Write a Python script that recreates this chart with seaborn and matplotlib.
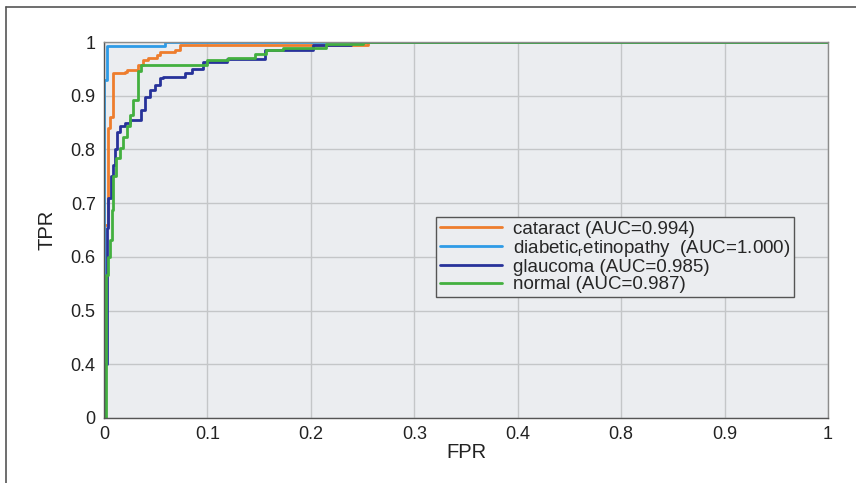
import numpy as np
import pandas as pd
import matplotlib
matplotlib.use("Agg")
import matplotlib.pyplot as plt
from matplotlib.lines import Line2D
import seaborn as sns

# ---- data (step ROC curves) ----
cataract_fpr = [0, 0, 0.004, 0.004, 0.006, 0.006, 0.009, 0.009, 0.020, 0.020, 0.022, 0.022,
                0.033, 0.033, 0.038, 0.038, 0.043, 0.043, 0.051, 0.051, 0.054, 0.054,
                0.069, 0.069, 0.073, 0.073, 0.255, 0.255, 1.0]
cataract_tpr = [0, 0.66, 0.66, 0.84, 0.84, 0.86, 0.86, 0.942, 0.942, 0.945, 0.945, 0.948,
                0.948, 0.957, 0.957, 0.967, 0.967, 0.971, 0.971, 0.975, 0.975, 0.982,
                0.982, 0.985, 0.985, 0.995, 0.995, 1.0, 1.0]

diabetic_fpr = [0, 0, 0.003, 0.003, 0.059, 0.059, 1.0]
diabetic_tpr = [0, 0.93, 0.93, 0.992, 0.992, 1.0, 1.0]

glaucoma_fpr = [0, 0, 0.0026, 0.0026, 0.004, 0.004, 0.0065, 0.0065, 0.009, 0.009, 0.0106, 0.0106,
                0.0129, 0.0129, 0.0155, 0.0155, 0.020, 0.020, 0.025, 0.025, 0.036, 0.036,
                0.040, 0.040, 0.044, 0.044, 0.049, 0.049, 0.054, 0.054, 0.057, 0.057,
                0.078, 0.078, 0.085, 0.085, 0.096, 0.096, 0.1185, 0.1185, 0.156, 0.156,
                0.202, 0.202, 0.239, 0.239, 1.0]
glaucoma_tpr = [0, 0.40, 0.40, 0.654, 0.654, 0.71, 0.71, 0.75, 0.75, 0.771, 0.771, 0.80,
                0.80, 0.833, 0.833, 0.843, 0.843, 0.849, 0.849, 0.855, 0.855, 0.874,
                0.874, 0.898, 0.898, 0.911, 0.911, 0.92, 0.92, 0.9325, 0.9325, 0.9355,
                0.9355, 0.942, 0.942, 0.950, 0.950, 0.962, 0.962, 0.969, 0.969, 0.986,
                0.986, 0.995, 0.995, 1.0, 1.0]

normal_fpr = [0, 0.002, 0.002, 0.004, 0.004, 0.006, 0.006, 0.0074, 0.0074, 0.009, 0.009,
              0.012, 0.012, 0.0155, 0.0155, 0.0187, 0.0187, 0.022, 0.022, 0.025, 0.025,
              0.028, 0.028, 0.033, 0.033, 0.036, 0.036, 0.100, 0.100, 0.120, 0.120,
              0.146, 0.146, 0.157, 0.157, 0.173, 0.173, 0.215, 0.215, 0.25, 0.25, 1.0]
normal_tpr = [0, 0, 0.567, 0.567, 0.60, 0.60, 0.632, 0.632, 0.688, 0.688, 0.75, 0.75,
              0.784, 0.784, 0.802, 0.802, 0.824, 0.824, 0.843, 0.843, 0.864, 0.864,
              0.892, 0.892, 0.946, 0.946, 0.957, 0.957, 0.966, 0.966, 0.971, 0.971,
              0.977, 0.977, 0.985, 0.985, 0.989, 0.989, 0.997, 0.997, 1.0, 1.0]

labels = ["cataract (AUC=0.994)",
          "diabetic$_{\\mathregular{r}}$etinopathy  (AUC=1.000)",
          "glaucoma (AUC=0.985)",
          "normal (AUC=0.987)"]
colors = ["#EE7D2D", "#2E9BE6", "#27329A", "#43B03F"]

x_ticks = [0, 0.1, 0.2, 0.3, 0.4, 0.8, 0.9, 1.0]
x_ticklabels = ["0", "0.1", "0.2", "0.3", "0.4", "0.8", "0.9", "1"]
y_ticks = [0, 0.4, 0.5, 0.6, 0.7, 0.8, 0.9, 1.0]
y_ticklabels = ["0", "0.4", "0.5", "0.6", "0.7", "0.8", "0.9", "1"]

# ---- build long table ----
frames = []
for lab, fx, ty in zip(labels,
                       [cataract_fpr, diabetic_fpr, glaucoma_fpr, normal_fpr],
                       [cataract_tpr, diabetic_tpr, glaucoma_tpr, normal_tpr]):
    frames.append(pd.DataFrame({"FPR": fx, "TPR": ty, "cls": lab}))
df = pd.concat(frames, ignore_index=True)

sns.set_theme(style="white")
plt.rcParams["font.family"] = ["Liberation Sans", "DejaVu Sans"]
plt.rcParams["mathtext.fontset"] = "custom"
plt.rcParams["mathtext.rm"] = "Liberation Sans"

fig = plt.figure(figsize=(8.56, 4.83), dpi=100)
ax = fig.add_axes([104 / 856, 65 / 483, (828 - 104) / 856, (418 - 42) / 483])
ax.set_facecolor("#EBEDF0")

# piecewise-linear (broken) axes as in the original
xk = np.array(x_ticks)
yk = np.array(y_ticks)
idx = np.arange(len(xk), dtype=float)
ax.set_xscale("function", functions=(lambda v: np.interp(v, xk, idx),
                                     lambda v: np.interp(v, idx, xk)))
ax.set_yscale("function", functions=(lambda v: np.interp(v, yk, idx),
                                     lambda v: np.interp(v, idx, yk)))

sns.lineplot(data=df, x="FPR", y="TPR", hue="cls", hue_order=labels,
             palette=colors, sort=False, estimator=None, units="cls",
             linewidth=2.0, ax=ax, legend=False)

ax.set_xlim(0, 1)
ax.set_ylim(0, 1)
ax.set_xticks(x_ticks)
ax.set_xticklabels(x_ticklabels)
ax.set_yticks(y_ticks)
ax.set_yticklabels(y_ticklabels)
ax.grid(True, color="#C4C6C8", linewidth=1.0)
ax.set_axisbelow(True)
ax.tick_params(axis="both", direction="in", length=5, width=1, color="#333333",
               labelsize=13, labelcolor="#222222", pad=6)
for sp in ax.spines.values():
    sp.set_color("#8C8C8C")
    sp.set_linewidth(1.0)
ax.spines["bottom"].set_color("#555555")
ax.spines["left"].set_color("#555555")

ax.set_xlabel("FPR", fontsize=14.5, color="#222222", labelpad=0)
ax.set_ylabel("TPR", fontsize=14.5, color="#222222", labelpad=10)

handles = [Line2D([0], [0], color=c, lw=2.0) for c in colors]
leg = ax.legend(handles, labels, loc="upper left", bbox_to_anchor=(332 / 724, (418 - 217) / 376),
                fontsize=13.5, frameon=True, fancybox=False, handlelength=3.3,
                handletextpad=0.6, borderpad=0.2, labelspacing=0.0, borderaxespad=0)
leg.get_frame().set_edgecolor("#555555")
leg.get_frame().set_facecolor("#EBEDF0")
leg.get_frame().set_alpha(1)
leg.get_frame().set_linewidth(1.0)

# decorative outer frame (top and left)
fig.add_artist(Line2D([6 / 856, 1.0], [1 - 7 / 483, 1 - 7 / 483], color="#555555", lw=1.2,
                      transform=fig.transFigure))
fig.add_artist(Line2D([6 / 856, 6 / 856], [0, 1 - 7 / 483], color="#555555", lw=1.2,
                      transform=fig.transFigure))

fig.savefig("out.png", dpi=100)
